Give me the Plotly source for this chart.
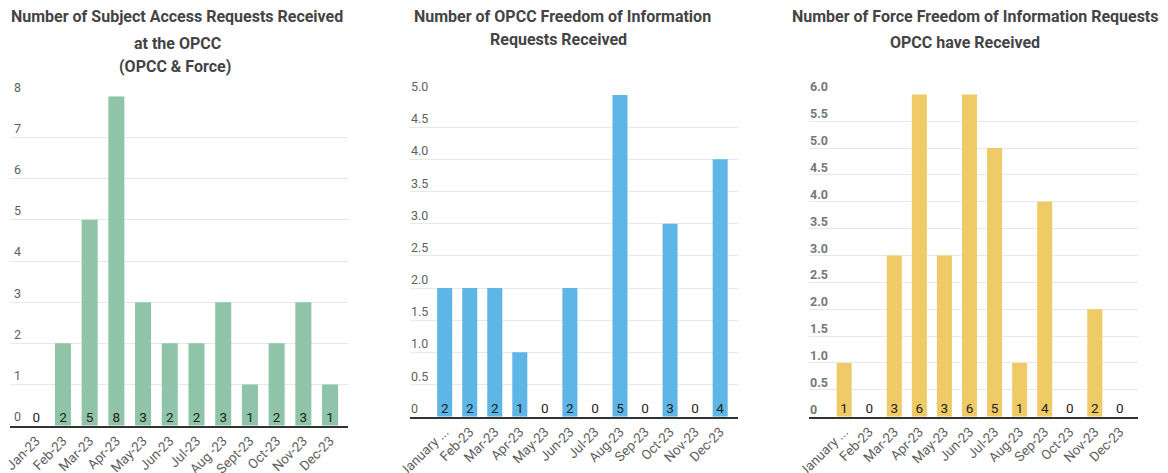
import plotly.graph_objects as go

# ---- data ----
sar_months = ["Jan-23", "Feb-23", "Mar-23", "Apr-23", "May-23", "Jun-23", "Jul-23",
              "Aug -23", "Sept-23", "Oct-23", "Nov-23", "Dec-23"]
sar_values = [0, 2, 5, 8, 3, 2, 2, 3, 1, 2, 3, 1]

opcc_foi_months = ["January ...", "Feb-23", "Mar-23", "Apr-23", "May-23", "Jun-23", "Jul-23",
                   "Aug-23", "Sep-23", "Oct-23", "Nov-23", "Dec-23"]
opcc_foi_values = [2, 2, 2, 1, 0, 2, 0, 5, 0, 3, 0, 4]

force_foi_months = ["January ...", "Feb-23", "Mar-23", "Apr-23", "May-23", "Jun-23", "Jul-23",
                    "Aug-23", "Sep-23", "Oct-23", "Nov-23", "Dec-23"]
force_foi_values = [1, 0, 3, 6, 3, 6, 5, 1, 4, 0, 2, 0]

sar_ticks = [0, 1, 2, 3, 4, 5, 6, 7, 8]
sar_ticktext = ["0", "1", "2", "3", "4", "5", "6", "7", "8"]
opcc_ticks = [0, 0.5, 1, 1.5, 2, 2.5, 3, 3.5, 4, 4.5, 5]
opcc_ticktext = ["0", "0.5", "1.0", "1.5", "2.0", "2.5", "3.0", "3.5", "4.0", "4.5", "5.0"]
force_ticks = [0, 0.5, 1, 1.5, 2, 2.5, 3, 3.5, 4, 4.5, 5, 5.5, 6]
force_ticktext = ["0", "0.5", "1.0", "1.5", "2.0", "2.5", "3.0", "3.5", "4.0", "4.5", "5.0", "5.5", "6.0"]

titles = [
    ["Number of Subject Access Requests Received", "at the OPCC", "(OPCC & Force)"],
    ["Number of OPCC Freedom of Information", "Requests Received"],
    ["Number of Force Freedom of Information Requests", "OPCC have Received"],
]

# ---- styling ----
W, H = 1168, 473
FONT = "Roboto"
colors = ["#8FC4A8", "#5DB6E6", "#EFCB68"]
grid_col = "#E8E8E8"
tick_col = "#5F5F5F"

panels = [
    dict(x=sar_months, y=sar_values, tv=sar_ticks, tt=sar_ticktext, top=8,
         xdom=[10.3, 347.7], ydom=[96.3, 425.7], xr=[-0.97, 11.66], lx=2, ly=9,
         bold=False, lc=tick_col),
    dict(x=opcc_foi_months, y=opcc_foi_values, tv=opcc_ticks, tt=opcc_ticktext, top=5,
         xdom=[410, 737.7], ydom=[95, 416.7], xr=[-1.385, 11.70], lx=-1, ly=8.5,
         bold=False, lc=tick_col),
    dict(x=force_foi_months, y=force_foi_values, tv=force_ticks, tt=force_ticktext, top=6,
         xdom=[809.3, 1137.7], ydom=[94.3, 416.7], xr=[-1.39, 11.71], lx=-1, ly=7.5,
         bold=True, lc="#777777"),
]

fig = go.Figure()
layout = dict(
    width=W, height=H, margin=dict(l=0, r=0, t=0, b=0, autoexpand=False),
    paper_bgcolor="white", plot_bgcolor="white", showlegend=False,
    font=dict(family=FONT, color=tick_col),
)
annotations = []

for i, p in enumerate(panels):
    n = "" if i == 0 else str(i + 1)
    xa, ya = "x" + n, "y" + n
    idx = list(range(len(p["x"])))
    fig.add_trace(go.Bar(x=idx, y=p["y"], marker_color=colors[i],
                         marker_line_width=0, width=0.6, xaxis=xa, yaxis=ya,
                         hoverinfo="y"))
    fig.add_trace(go.Scatter(x=idx, y=[0] * len(p["y"]), mode="text",
                             text=[str(v) for v in p["y"]], textposition="top center",
                             textfont=dict(family=FONT, size=13.5, color="#222222"),
                             xaxis=xa, yaxis=ya, hoverinfo="skip", cliponaxis=False))
    layout["xaxis" + n] = dict(
        domain=[p["xdom"][0] / W, p["xdom"][1] / W], anchor=ya, automargin=False,
        range=p["xr"], tickmode="array", tickvals=idx, ticktext=p["x"],
        tickangle=-45, tickfont=dict(family=FONT, size=13.5, color=tick_col),
        showgrid=False, showline=True, linecolor="#333333", linewidth=2,
        ticks="", fixedrange=True, zeroline=False,
    )
    layout["yaxis" + n] = dict(
        domain=[1 - p["ydom"][1] / H, 1 - p["ydom"][0] / H], anchor=xa, automargin=False,
        range=[0, p["top"]], tickmode="array", tickvals=p["tv"], ticktext=p["tt"],
        showticklabels=False,
        showgrid=True, gridcolor=grid_col, gridwidth=1, zeroline=False, showline=False,
        ticks="", fixedrange=True,
    )
    # y tick labels sitting just above each gridline, at the left edge (Google-chart style)
    for v, t in zip(p["tv"], p["tt"]):
        annotations.append(dict(
            text=("<b>" + t + "</b>") if p["bold"] else t, x=0, y=v,
            xref=xa + " domain", yref=ya,
            xanchor="left", yanchor="middle", xshift=p["lx"], yshift=p["ly"],
            showarrow=False, font=dict(family=FONT, size=12.5, color=p["lc"]),
        ))

# titles as annotations, one per line
title_pos = [
    [(177, 17), (177, 43), (175, 66)],
    [(562, 16), (558, 40)],
    [(975, 17), (965, 42)],
]
for lines, poss in zip(titles, title_pos):
    for txt, (cx, cy) in zip(lines, poss):
        annotations.append(dict(
            text="<b>" + txt + "</b>", x=cx / W, y=1 - cy / H, xref="paper", yref="paper",
            xanchor="center", yanchor="middle", showarrow=False,
            font=dict(family=FONT, size=16, color="#444444"),
        ))
layout["annotations"] = annotations

fig.update_layout(**layout)
fig.write_html("out.html", config={"displayModeBar": False},
               post_script="document.body.style.margin='0';")
